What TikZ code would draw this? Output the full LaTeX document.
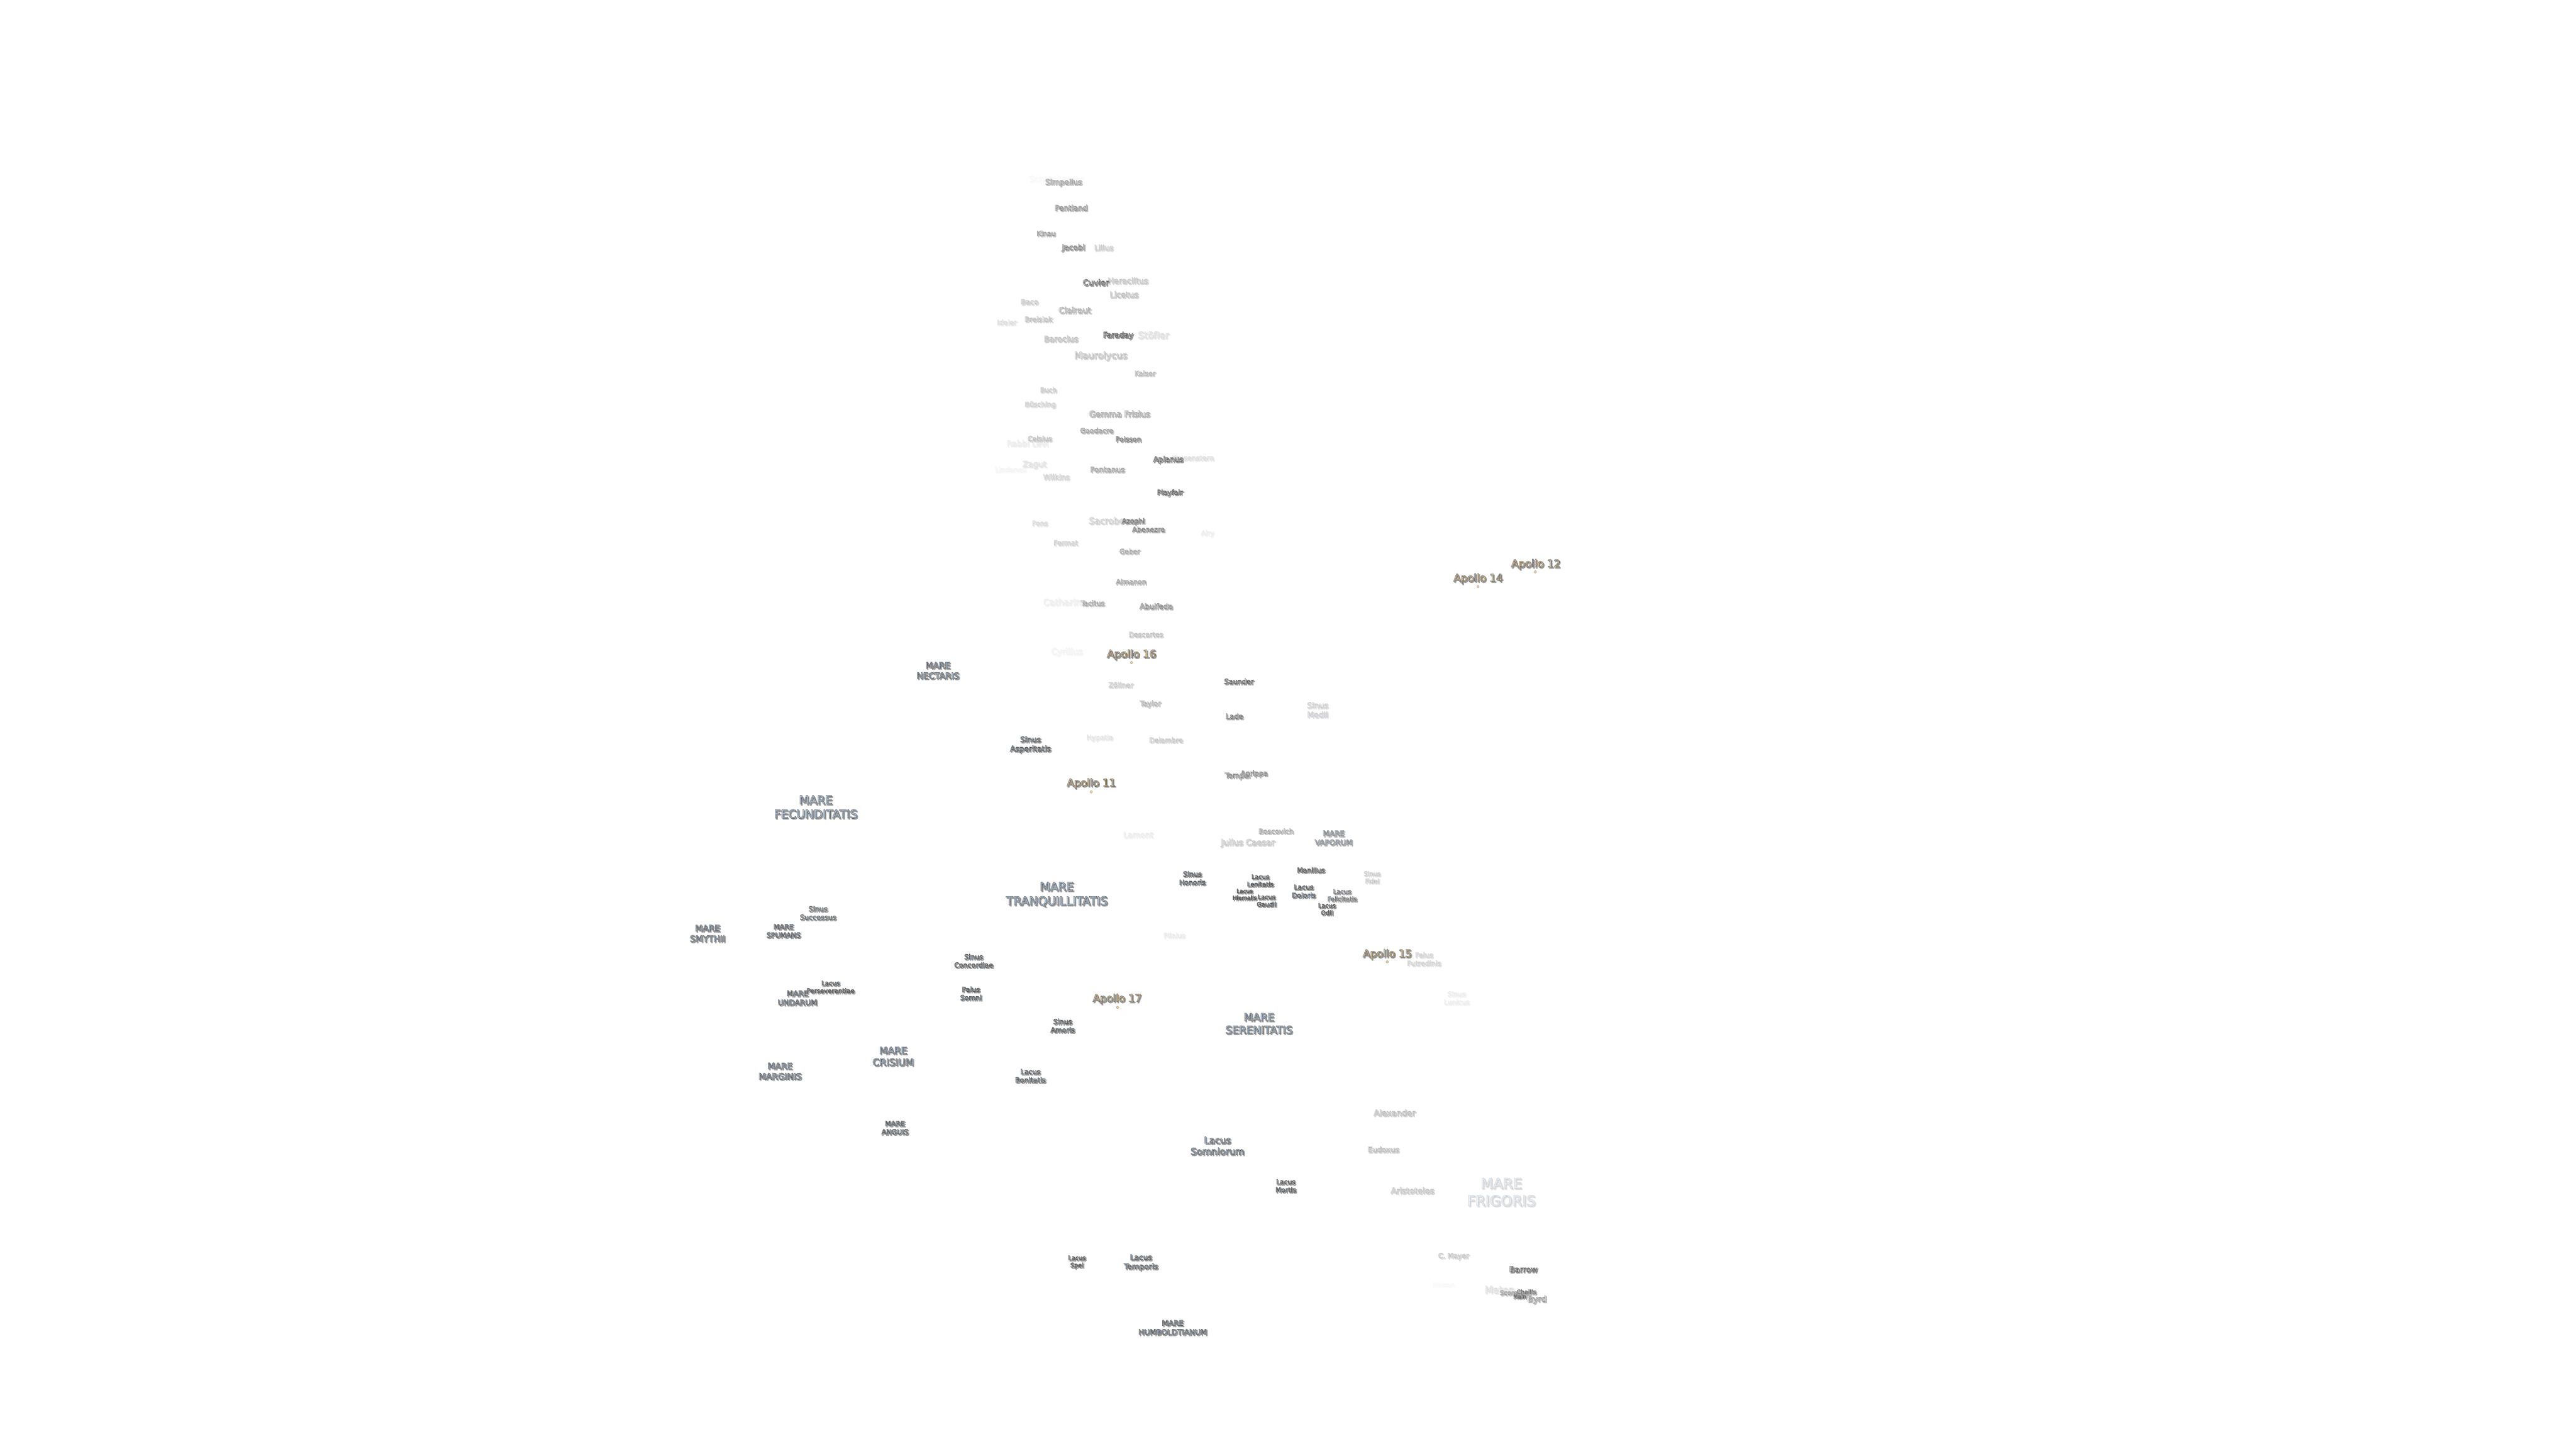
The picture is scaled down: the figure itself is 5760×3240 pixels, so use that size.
\documentclass[tikz,border=0pt]{standalone}
\usepackage{fontspec}
\setmainfont{DejaVu Sans}
\definecolor{crater}{HTML}{FFFFFF}
\definecolor{sea}{HTML}{BDD7F2}
\definecolor{site}{HTML}{FBDDA6}
\definecolor{shade}{HTML}{999999}
% label: [fill colour]{width in px}{visibility in %}{text}
\newcommand{\moon}[4][crater]{%
  \setbox0=\hbox{\fontsize{10}{12}\selectfont\begin{tabular}{@{}c@{}}#4\end{tabular}}%
  \pgfmathsetmacro{\fitsize}{10*(#2-3)*0.2845/\the\wd0*1}%
  \pgfmathsetmacro{\fitskip}{1.2*\fitsize}%
  \pgfmathsetmacro{\edgegray}{1-0.65*#3/100}%
  \pgfmathsetmacro{\shadegray}{1-0.4*#3/100}%
  \fontsize{\fitsize}{\fitskip}\selectfont
  \rlap{\kern0.7pt\raisebox{-0.7pt}{\color{shade!#3!white}\special{pdf:code \shadegray\space\shadegray\space\shadegray\space RG 2 Tr 0.4 w}\begin{tabular}{@{}c@{}}#4\end{tabular}\special{pdf:code 0 Tr}}}%
  {\color{#1!#3!white}\special{pdf:code \edgegray\space\edgegray\space\edgegray\space RG 2 Tr 0.22 w}%
   \begin{tabular}{@{}c@{}}#4\end{tabular}\special{pdf:code 0 Tr}}%
}
\tikzset{
  lbl/.style={inner sep=0pt,anchor=center},
  sitedot/.style={circle,inner sep=0pt,minimum size=0.05cm,fill=site,draw=black!70,line width=0.1pt}
}
\begin{document}
\begin{tikzpicture}[x=0.01cm,y=-0.01cm]
\useasboundingbox[fill=white] (0,-4) rectangle (5760,3236);
% faint ones first
\node[lbl] (schomberger) at (2362,399) {\moon{125}{5}{Schomberger}};
\node[lbl] (neison) at (3228,2872) {\moon{53}{4}{Neison}};
\node[lbl] (lindenau) at (2260,1049) {\moon{73}{7}{Lindenau}};
\node[lbl] (cyrillus) at (2385,1456) {\moon{73}{9}{Cyrillus}};
\node[lbl] (rabbilevi) at (2297,991) {\moon{96}{14}{Rabbi Levi}};
\node[lbl] (catharina) at (2381,1346) {\moon{100}{13}{Catharina}};
\node[lbl] (airy) at (2700,1191) {\moon{32}{12}{Airy}};
\node[lbl] (lamont) at (2545,1866) {\moon{70}{14}{Lamont}};
\node[lbl] (plinius) at (2626,2091) {\moon{51}{14}{Plinius}};
\node[lbl] (hypatia) at (2459,1648) {\moon{62}{18}{Hypatia}};
\node[lbl] (krusenstern) at (2667,1023) {\moon{97}{22}{Krusenstern}};
\node[lbl] (sinuslunicus) at (3257,2231) {\moon[sea]{60}{12}{Sinus\\Lunicus}};
% craters
\node[lbl] (simpelius) at (2378,406) {\moon{85}{60}{Simpelius}};
\node[lbl] (pentland) at (2395,464) {\moon{76}{70}{Pentland}};
\node[lbl] (kinau) at (2339,521) {\moon{45}{60}{Kinau}};
\node[lbl] (jacobi) at (2400,552) {\moon{54}{80}{Jacobi}};
\node[lbl] (lilius) at (2468,553) {\moon{45}{35}{Lilius}};
\node[lbl] (heraclitus) at (2522,627) {\moon{93}{40}{Heraclitus}};
\node[lbl] (cuvier) at (2450,631) {\moon{61}{95}{Cuvier}};
\node[lbl] (licetus) at (2513,658) {\moon{67}{45}{Licetus}};
\node[lbl] (baco) at (2302,674) {\moon{42}{35}{Baco}};
\node[lbl] (clairaut) at (2403,693) {\moon{75}{55}{Clairaut}};
\node[lbl] (breislak) at (2322,713) {\moon{65}{40}{Breislak}};
\node[lbl] (ideler) at (2251,720) {\moon{47}{22}{Ideler}};
\node[lbl] (stofler) at (2579,749) {\moon{72}{25}{Stöfler}};
\node[lbl] (faraday) at (2500,748) {\moon{70}{100}{Faraday}};
\node[lbl] (barocius) at (2372,757) {\moon{80}{45}{Barocius}};
\node[lbl] (maurolycus) at (2461,794) {\moon{121}{45}{Maurolycus}};
\node[lbl] (kaiser) at (2560,834) {\moon{50}{45}{Kaiser}};
\node[lbl] (buch) at (2344,871) {\moon{40}{35}{Buch}};
\node[lbl] (busching) at (2326,903) {\moon{72}{30}{Büsching}};
\node[lbl] (gemma) at (2503,925) {\moon{139}{60}{Gemma Frisius}};
\node[lbl] (goodacre) at (2452,962) {\moon{77}{60}{Goodacre}};
\node[lbl] (poisson) at (2523,981) {\moon{60}{80}{Poisson}};
\node[lbl] (celsius) at (2325,980) {\moon{57}{40}{Celsius}};
\node[lbl] (apianus) at (2612,1026) {\moon{70}{95}{Apianus}};
\node[lbl] (zagut) at (2313,1037) {\moon{56}{22}{Zagut}};
\node[lbl] (pontanus) at (2476,1049) {\moon{80}{60}{Pontanus}};
\node[lbl] (wilkins) at (2362,1066) {\moon{62}{30}{Wilkins}};
\node[lbl] (playfair) at (2616,1100) {\moon{61}{95}{Playfair}};
\node[lbl] (sacrobosco) at (2491,1164) {\moon{116}{35}{Sacrobosco}};
\node[lbl] (azophi) at (2534,1164) {\moon{54}{85}{Azophi}};
\node[lbl] (abenezra) at (2568,1183) {\moon{76}{75}{Abenezra}};
\node[lbl] (pons) at (2325,1169) {\moon{38}{25}{Pons}};
\node[lbl] (fermat) at (2383,1213) {\moon{57}{30}{Fermat}};
\node[lbl] (geber) at (2526,1232) {\moon{49}{55}{Geber}};
\node[lbl] (almanon) at (2529,1300) {\moon{71}{60}{Almanon}};
\node[lbl] (tacitus) at (2443,1348) {\moon{56}{55}{Tacitus}};
\node[lbl] (abulfeda) at (2585,1355) {\moon{77}{70}{Abulfeda}};
\node[lbl] (descartes) at (2562,1418) {\moon{80}{40}{Descartes}};
\node[lbl] (zollner) at (2506,1531) {\moon{58}{35}{Zöllner}};
\node[lbl] (saunder) at (2770,1523) {\moon{69}{95}{Saunder}};
\node[lbl] (taylor) at (2572,1572) {\moon{50}{50}{Taylor}};
\node[lbl] (lade) at (2760,1601) {\moon{42}{80}{Lade}};
\node[lbl] (delambre) at (2607,1654) {\moon{78}{35}{Delambre}};
\node[lbl] (tempel) at (2767,1733) {\moon{59}{75}{Tempel}};
\node[lbl] (agrippa) at (2804,1728) {\moon{63}{75}{Agrippa}};
\node[lbl] (boscovich) at (2853,1858) {\moon{81}{55}{Boscovich}};
\node[lbl] (julius) at (2790,1883) {\moon{123}{40}{Julius Caesar}};
\node[lbl] (manilius) at (2931,1945) {\moon{65}{100}{Manilius}};
\node[lbl] (alexander) at (3118,2488) {\moon{96}{45}{Alexander}};
\node[lbl] (eudoxus) at (3093,2570) {\moon{73}{45}{Eudoxus}};
\node[lbl] (aristoteles) at (3158,2662) {\moon{100}{40}{Aristoteles}};
\node[lbl] (cmayer) at (3250,2807) {\moon{72}{35}{C. Mayer}};
\node[lbl] (barrow) at (3406,2838) {\moon{66}{100}{Barrow}};
\node[lbl] (meton) at (3353,2884) {\moon{70}{25}{Meton}};
\node[lbl] (scoresby) at (3386,2890) {\moon{67}{60}{Scoresby}};
\node[lbl] (challis) at (3413,2888) {\moon{47}{80}{Challis}};
\node[lbl] (main) at (3398,2898) {\moon{32}{90}{Main}};
\node[lbl] (byrd) at (3436,2904) {\moon{46}{70}{Byrd}};
% seas, lakes, bays
\node[lbl] (nectaris) at (2097,1499) {\moon[sea]{98}{100}{MARE\\NECTARIS}};
\node[lbl] (fecunditatis) at (1824,1805) {\moon[sea]{189}{100}{MARE\\FECUNDITATIS}};
\node[lbl] (tranquillitatis) at (2363,1999) {\moon[sea]{230}{100}{MARE\\TRANQUILLITATIS}};
\node[lbl] (serenitatis) at (2815,2289) {\moon[sea]{153}{100}{MARE\\SERENITATIS}};
\node[lbl] (vaporum) at (2982,1873) {\moon[sea]{87}{75}{MARE\\VAPORUM}};
\node[lbl] (spumans) at (1752,2081) {\moon[sea]{79}{100}{MARE\\SPUMANS}};
\node[lbl] (smythii) at (1582,2087) {\moon[sea]{82}{100}{MARE\\SMYTHII}};
\node[lbl] (undarum) at (1783,2231) {\moon[sea]{91}{100}{MARE\\UNDARUM}};
\node[lbl] (crisium) at (1997,2362) {\moon[sea]{95}{100}{MARE\\CRISIUM}};
\node[lbl] (marginis) at (1744,2395) {\moon[sea]{99}{100}{MARE\\MARGINIS}};
\node[lbl] (anguis) at (2001,2521) {\moon[sea]{63}{100}{MARE\\ANGUIS}};
\node[lbl] (humboldtianum) at (2622,2968) {\moon[sea]{156}{100}{MARE\\HUMBOLDTIANUM}};
\node[lbl] (frigoris) at (3357,2667) {\moon[sea]{156}{32}{MARE\\FRIGORIS}};
\node[lbl] (sinusmedii) at (2946,1587) {\moon[sea]{50}{32}{Sinus\\Medii}};
\node[lbl] (asperitatis) at (2304,1663) {\moon[sea]{94}{100}{Sinus\\Asperitatis}};
\node[lbl] (honoris) at (2666,1963) {\moon[sea]{62}{100}{Sinus\\Honoris}};
\node[lbl] (fidei) at (3068,1961) {\moon[sea]{40}{32}{Sinus\\Fidei}};
\node[lbl] (successus) at (1829,2041) {\moon[sea]{84}{90}{Sinus\\Successus}};
\node[lbl] (concordiae) at (2177,2148) {\moon[sea]{90}{100}{Sinus\\Concordiae}};
\node[lbl] (amoris) at (2376,2293) {\moon[sea]{57}{100}{Sinus\\Amoris}};
\node[lbl] (lenitatis) at (2818,1968) {\moon[sea]{62}{100}{Lacus\\Lenitatis}};
\node[lbl] (doloris) at (2915,1992) {\moon[sea]{56}{100}{Lacus\\Doloris}};
\node[lbl] (hiemalis) at (2783,1999) {\moon[sea]{57}{100}{Lacus\\Hiemalis}};
\node[lbl] (gaudii) at (2832,2013) {\moon[sea]{47}{100}{Lacus\\Gaudii}};
\node[lbl] (felicitatis) at (3001,2001) {\moon[sea]{69}{80}{Lacus\\Felicitatis}};
\node[lbl] (odii) at (2967,2032) {\moon[sea]{42}{100}{Lacus\\Odii}};
\node[lbl] (perseverantiae) at (1857,2206) {\moon[sea]{110}{100}{Lacus\\Perseverantiae}};
\node[lbl] (bonitatis) at (2304,2405) {\moon[sea]{71}{100}{Lacus\\Bonitatis}};
\node[lbl] (somniorum) at (2722,2562) {\moon[sea]{123}{100}{Lacus\\Somniorum}};
\node[lbl] (mortis) at (2875,2651) {\moon[sea]{49}{100}{Lacus\\Mortis}};
\node[lbl] (spei) at (2408,2820) {\moon[sea]{42}{100}{Lacus\\Spei}};
\node[lbl] (temporis) at (2551,2821) {\moon[sea]{79}{100}{Lacus\\Temporis}};
\node[lbl] (somni) at (2171,2221) {\moon[sea]{51}{100}{Palus\\Somni}};
\node[lbl] (putredinis) at (3184,2144) {\moon[sea]{79}{28}{Palus\\Putredinis}};
% landing sites
\node[lbl] (apollo12) at (3434,1260) {\moon[site]{113}{100}{Apollo 12}};
\node[lbl] (apollo14) at (3305,1292) {\moon[site]{113}{100}{Apollo 14}};
\node[lbl] (apollo16) at (2530,1462) {\moon[site]{113}{100}{Apollo 16}};
\node[lbl] (apollo11) at (2440,1750) {\moon[site]{112}{100}{Apollo 11}};
\node[lbl] (apollo15) at (3102,2132) {\moon[site]{112}{100}{Apollo 15}};
\node[lbl] (apollo17) at (2498,2232) {\moon[site]{112}{100}{Apollo 17}};
\node[sitedot] (dot12) at (3433,1275) {};
\node[sitedot] (dot14) at (3305,1308) {};
\node[sitedot] (dot16) at (2530,1478) {};
\node[sitedot] (dot11) at (2440,1767) {};
\node[sitedot] (dot15) at (3102,2147) {};
\node[sitedot] (dot17) at (2499,2249) {};
\end{tikzpicture}
\end{document}
